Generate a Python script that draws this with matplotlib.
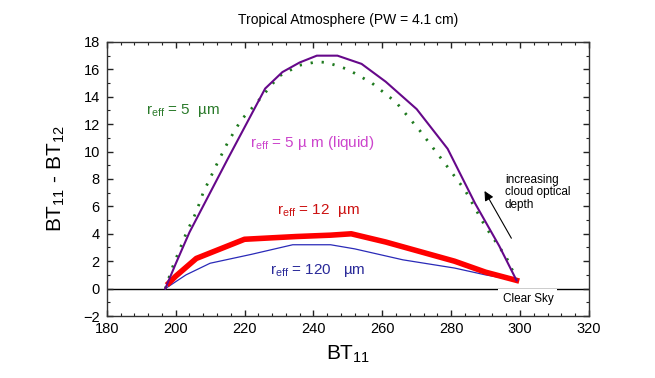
import matplotlib
matplotlib.use("Agg")
import matplotlib.pyplot as plt
from matplotlib.ticker import MultipleLocator

plt.rcParams['font.family'] = ['Liberation Sans', 'DejaVu Sans']
plt.rcParams['mathtext.default'] = 'regular'

# r_eff = 5 um (liquid), solid purple
liq5_bt = [197, 200, 204, 215, 226, 231, 236, 241, 247, 254, 261, 270, 279, 287, 294, 299]
liq5_dbt = [0.0, 1.8, 4.1, 9.4, 14.6, 15.8, 16.5, 17.0, 17.0, 16.4, 15.1, 13.1, 10.2, 6.2, 3.1, 0.6]

# r_eff = 5 um (ice), green dotted
ice5_bt = [197, 199, 203, 206, 208, 212, 215, 219, 223, 227, 230, 236, 241, 244, 250, 257, 264, 271, 278, 284, 290, 296, 299]
ice5_dbt = [0.0, 1.5, 4.0, 5.6, 7.0, 9.1, 10.6, 12.3, 13.4, 14.6, 15.5, 16.3, 16.55, 16.5, 16.0, 15.0, 13.6, 11.5, 9.2, 7.2, 4.5, 2.3, 0.7]

# r_eff = 12 um, thick red
r12_bt = [198, 200, 206, 220, 235, 245, 251, 261, 271, 281, 290, 299]
r12_dbt = [0.4, 0.9, 2.2, 3.6, 3.8, 3.9, 4.0, 3.4, 2.7, 2.0, 1.2, 0.6]

# r_eff = 120 um, thin blue
r120_bt = [197, 203, 210, 222, 234, 245, 252, 266, 281, 290, 299]
r120_dbt = [0.0, 1.0, 1.85, 2.5, 3.2, 3.2, 2.9, 2.1, 1.5, 1.0, 0.6]

fig = plt.figure(figsize=(6.55, 3.78), dpi=100)
ax = fig.add_axes([0.163, 0.164, 0.736, 0.725])

ax.axhline(0, color='black', lw=1.0, zorder=1)
ax.plot(r120_bt, r120_dbt, color='#2a2ab8', lw=0.9, zorder=2)
ax.plot(r12_bt, r12_dbt, color='#ff0000', lw=4.0, solid_joinstyle='round', zorder=3)
ax.plot(ice5_bt, ice5_dbt, color='#1f7a1f', lw=2.0, linestyle=(0, (0.8, 3.2)), zorder=4)
ax.plot(liq5_bt, liq5_dbt, color='#66088a', lw=1.5, zorder=5)

ax.set_xlim(180, 320)
ax.set_ylim(-2, 18)
ax.xaxis.set_major_locator(MultipleLocator(20))
ax.xaxis.set_minor_locator(MultipleLocator(4))
ax.yaxis.set_major_locator(MultipleLocator(2))
ax.yaxis.set_minor_locator(MultipleLocator(1))
ax.tick_params(which='both', direction='in', top=True, right=True, color='#222222')
ax.tick_params(which='major', length=4, width=1)
ax.tick_params(which='minor', length=2, width=0.8)
ax.tick_params(axis='x', labelsize=10.5, pad=4)
ax.tick_params(axis='y', labelsize=10.5, pad=5)
for lbl in ax.get_xticklabels() + ax.get_yticklabels():
    lbl.set_family(['Liberation Sans Narrow', 'Liberation Sans', 'DejaVu Sans'])
for s in ax.spines.values():
    s.set_color('#333333')
    s.set_linewidth(1.0)

ax.set_title('Tropical Atmosphere (PW = 4.1 cm)', fontsize=10, pad=13)
ax.set_xlabel('BT$_{11}$', fontsize=15, labelpad=6)
ax.set_ylabel('BT$_{11}$ - BT$_{12}$', fontsize=15, labelpad=12)

ax.text(191.3, 13.0, 'r$_{eff}$ = 5  µm', color='#2a7a2a', fontsize=11, va='center')
ax.text(221.7, 10.6, 'r$_{eff}$ = 5 µ m (liquid)', color='#cc44cc', fontsize=11, va='center')
ax.text(229.5, 5.7, 'r$_{eff}$ = 12  µm', color='#cc1111', fontsize=11, va='center')
ax.text(227.5, 1.3, 'r$_{eff}$ = 120   µm', color='#2a2a99', fontsize=11, va='center')
ax.text(295.6, 8.4, 'increasing\ncloud optical\ndepth', color='black', fontsize=8.5,
        va='top', ha='left', linespacing=1.1)
ax.annotate('', xy=(289.3, 7.3), xytext=(297.9, 3.5),
            arrowprops=dict(arrowstyle='-|>', color='black', lw=0.8, mutation_scale=14))
ax.text(302.3, -0.75, 'Clear Sky', fontsize=8.5, ha='center', va='center', zorder=6,
        bbox=dict(facecolor='white', edgecolor='none', pad=3))

fig.savefig('out.png', dpi=100)
